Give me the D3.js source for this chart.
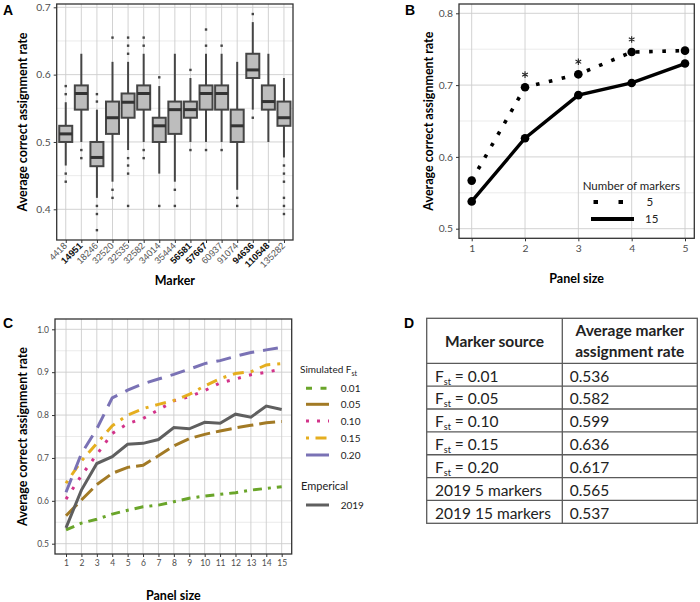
<!DOCTYPE html>
<html>
<head>
<meta charset="utf-8">
<script src="https://cdn.jsdelivr.net/npm/d3@7"></script>
<style>
body { margin: 0; background: #fff; }
svg { display: block; font-family: Lato, 'Open Sans', sans-serif; }
</style>
</head>
<body>
<svg id="fig" width="700" height="602"></svg>
<script>
// ---- Panel A data (boxplots per marker)
const markers = ['4418', '14951', '18246', '32520', '32535', '32582', '34014', '35444', '56581', '57667', '60937', '91074', '94636', '110548', '135282']
const boldMarkers = ['14951', '56581', '57667', '94636', '110548']
const boxQ1 = [0.500, 0.548, 0.464, 0.512, 0.536, 0.548, 0.500, 0.512, 0.536, 0.548, 0.548, 0.500, 0.595, 0.548, 0.524]
const boxMedian = [0.512, 0.572, 0.477, 0.536, 0.559, 0.572, 0.524, 0.548, 0.548, 0.572, 0.572, 0.524, 0.607, 0.560, 0.536]
const boxQ3 = [0.524, 0.584, 0.500, 0.560, 0.572, 0.584, 0.536, 0.560, 0.560, 0.584, 0.584, 0.548, 0.631, 0.584, 0.560]
const whiskerLow = [0.465, 0.500, 0.417, 0.441, 0.488, 0.500, 0.453, 0.441, 0.500, 0.500, 0.500, 0.429, 0.548, 0.500, 0.477]
const whiskerHigh = [0.559, 0.631, 0.548, 0.619, 0.619, 0.631, 0.583, 0.631, 0.595, 0.631, 0.631, 0.619, 0.678, 0.631, 0.595]
const outliers = [
    [0.583, 0.571, 0.453, 0.441],
    [0.488, 0.476],
    [0.571, 0.560, 0.405, 0.393, 0.369],
    [0.655, 0.429, 0.417],
    [0.655, 0.643, 0.631, 0.476, 0.465, 0.453, 0.405],
    [0.655, 0.643, 0.488, 0.476],
    [0.596, 0.405],
    [0.429, 0.405],
    [0.607, 0.488],
    [0.667, 0.643, 0.488],
    [0.643, 0.488],
    [0.417, 0.405],
    [0.690, 0.536],
    [],
    [0.465, 0.453, 0.441, 0.417, 0.405, 0.393]
]
const yTicksA = [0.4, 0.5, 0.6, 0.7]
const yMinorA = [0.45, 0.55, 0.65]

// ---- Panel B data
const panelSizesB = [1, 2, 3, 4, 5]
const rate5 = [0.567, 0.697, 0.715, 0.746, 0.748]
const rate15 = [0.538, 0.626, 0.686, 0.703, 0.730]
const starredSizes = [2, 3, 4]
const yTicksB = [0.5, 0.6, 0.7, 0.8]
const yMinorB = [0.55, 0.65, 0.75]

// ---- Panel C data
const panelSizesC = [1, 2, 3, 4, 5, 6, 7, 8, 9, 10, 11, 12, 13, 14, 15]
const fst01 = [0.532, 0.548, 0.557, 0.569, 0.578, 0.586, 0.590, 0.598, 0.606, 0.611, 0.615, 0.619, 0.625, 0.629, 0.633]
const fst05 = [0.565, 0.602, 0.638, 0.664, 0.678, 0.683, 0.705, 0.728, 0.745, 0.755, 0.763, 0.770, 0.776, 0.782, 0.785]
const fst10 = [0.604, 0.659, 0.708, 0.757, 0.780, 0.792, 0.812, 0.833, 0.843, 0.857, 0.875, 0.884, 0.894, 0.900, 0.907]
const fst15 = [0.641, 0.693, 0.734, 0.775, 0.800, 0.815, 0.825, 0.834, 0.848, 0.868, 0.885, 0.897, 0.901, 0.917, 0.920]
const fst20 = [0.620, 0.710, 0.768, 0.840, 0.858, 0.873, 0.884, 0.895, 0.907, 0.920, 0.927, 0.937, 0.946, 0.952, 0.958]
const emp2019 = [0.537, 0.625, 0.687, 0.703, 0.732, 0.734, 0.743, 0.771, 0.768, 0.783, 0.781, 0.802, 0.795, 0.821, 0.813]
const fstLabels = ['0.01', '0.05', '0.10', '0.15', '0.20']
const yTicksC = [0.5, 0.6, 0.7, 0.8, 0.9, 1.0]
const yMinorC = [0.55, 0.65, 0.75, 0.85, 0.95]

// ---- Panel D data
const markerSources = ['Fst = 0.01', 'Fst = 0.05', 'Fst = 0.10', 'Fst = 0.15', 'Fst = 0.20', '2019 5 markers', '2019 15 markers']
const sourceRates = [0.536, 0.582, 0.599, 0.636, 0.617, 0.565, 0.537]

const svg = d3.select('#fig')
const fmt1 = d3.format('.1f')

// light ggplot-like frame: grid, border, left axis
function frame(g, box, y, yTicks, yMinor, xLines) {
    g.selectAll('line.ymin').data(yMinor).join('line').attr('class', 'ymin')
        .attr('x1', box.left).attr('x2', box.right)
        .attr('y1', y).attr('y2', y)
        .attr('stroke', '#e6e6e6').attr('stroke-width', 0.8)
    g.selectAll('line.ymaj').data(yTicks).join('line').attr('class', 'ymaj')
        .attr('x1', box.left).attr('x2', box.right)
        .attr('y1', y).attr('y2', y)
        .attr('stroke', '#cdcdcd').attr('stroke-width', 0.9)
    g.selectAll('line.xmaj').data(xLines).join('line').attr('class', 'xmaj')
        .attr('x1', d => d).attr('x2', d => d)
        .attr('y1', box.top).attr('y2', box.bottom)
        .attr('stroke', '#cdcdcd').attr('stroke-width', 0.9)

    const axis = g.append('g')
        .attr('transform', `translate(${box.left},0)`)
        .call(d3.axisLeft(y).tickValues(yTicks).tickSize(3).tickPadding(3).tickFormat(fmt1))
    axis.select('.domain').remove()
    axis.selectAll('line').attr('stroke', '#333')
    axis.selectAll('text').attr('fill', '#4d4d4d').style('font-size', box.tickSize + 'px')
        .style('font-family', 'Lato, sans-serif')
}

function border(g, box) {
    g.append('rect')
        .attr('x', box.left).attr('y', box.top)
        .attr('width', box.right - box.left).attr('height', box.bottom - box.top)
        .attr('fill', 'none').attr('stroke', '#333').attr('stroke-width', 1.3)
}

function titles(g, box, xTitle, xTitleY, yTitleX) {
    g.append('text')
        .attr('x', (box.left + box.right) / 2).attr('y', xTitleY)
        .attr('text-anchor', 'middle')
        .style('font-size', '12.5px').style('font-weight', 700)
        .text(xTitle)
    g.append('text')
        .attr('transform', `translate(${yTitleX},${(box.top + box.bottom) / 2}) rotate(-90)`)
        .attr('text-anchor', 'middle')
        .style('font-size', '12.5px').style('font-weight', 700)
        .text('Average correct assignment rate')
}

function panelLetter(x, y, letter) {
    svg.append('text').attr('x', x).attr('y', y)
        .style('font-family', "'Liberation Sans', Arial, sans-serif")
        .style('font-size', '14px').style('font-weight', 700)
        .text(letter)
}

// ---------------- Panel A
{
    const box = { left: 56.7, right: 293, top: 4, bottom: 240, tickSize: 10.3 }
    const g = svg.append('g')
    const x = d3.scalePoint().domain(markers).range([box.left, box.right]).padding(0.58)
    const y = d3.scaleLinear().domain([0.4, 0.7]).range([209.3, 7.3])

    frame(g, box, y, yTicksA, yMinorA, markers.map(x))

    const bw = 13
    const boxes = g.selectAll('g.box').data(markers).join('g').attr('class', 'box')
    boxes.append('line')
        .attr('x1', d => x(d)).attr('x2', d => x(d))
        .attr('y1', (d, i) => y(whiskerLow[i])).attr('y2', (d, i) => y(whiskerHigh[i]))
        .attr('stroke', '#454545').attr('stroke-width', 2)
    boxes.append('rect')
        .attr('x', d => x(d) - bw / 2).attr('width', bw)
        .attr('y', (d, i) => y(boxQ3[i]))
        .attr('height', (d, i) => y(boxQ1[i]) - y(boxQ3[i]))
        .attr('fill', '#bdbdbd').attr('stroke', '#454545').attr('stroke-width', 2)
    boxes.append('line')
        .attr('x1', d => x(d) - bw / 2).attr('x2', d => x(d) + bw / 2)
        .attr('y1', (d, i) => y(boxMedian[i])).attr('y2', (d, i) => y(boxMedian[i]))
        .attr('stroke', '#333').attr('stroke-width', 3)
    boxes.each(function(d, i) {
        d3.select(this).selectAll('rect.out').data(outliers[i]).join('rect').attr('class', 'out')
            .attr('x', x(d) - 1.2).attr('y', v => y(v) - 1.2)
            .attr('width', 2.4).attr('height', 2.4).attr('fill', '#444')
    })

    border(g, box)

    const xAxis = g.append('g').attr('transform', `translate(0,${box.bottom})`)
        .call(d3.axisBottom(x).tickSize(3))
    xAxis.select('.domain').remove()
    xAxis.selectAll('line').attr('stroke', '#333')
    xAxis.selectAll('text')
        .attr('x', 0).attr('y', 0).attr('dy', '0.35em')
        .attr('transform', 'translate(-1,4) rotate(-45)')
        .attr('text-anchor', 'end')
        .style('font-size', '9.3px')
        .style('font-weight', d => boldMarkers.includes(d) ? 700 : 400)
        .attr('fill', d => boldMarkers.includes(d) ? '#111' : '#555')

    titles(g, box, 'Marker', 284.5, 27)
    panelLetter(3, 15, 'A')
}

// ---------------- Panel B
{
    const box = { left: 459, right: 694.3, top: 4, bottom: 238.3, tickSize: 10.3 }
    const g = svg.append('g')
    const x = d3.scaleLinear().domain([1, 5]).range([471.7, 685])
    const y = d3.scaleLinear().domain([0.5, 0.8]).range([228.7, 13.3])

    frame(g, box, y, yTicksB, yMinorB, panelSizesB.map(x))

    const line = d3.line().x((d, i) => x(panelSizesB[i])).y(d => y(d))
    g.append('path').datum(rate5).attr('d', line)
        .attr('fill', 'none').attr('stroke', '#000').attr('stroke-width', 3.6)
        .attr('stroke-dasharray', '3.6,9.6')
    g.append('path').datum(rate15).attr('d', line)
        .attr('fill', 'none').attr('stroke', '#000').attr('stroke-width', 3.4)
    g.selectAll('circle.p5').data(rate5).join('circle').attr('class', 'p5')
        .attr('cx', (d, i) => x(panelSizesB[i])).attr('cy', d => y(d)).attr('r', 4.3)
    g.selectAll('circle.p15').data(rate15).join('circle').attr('class', 'p15')
        .attr('cx', (d, i) => x(panelSizesB[i])).attr('cy', d => y(d)).attr('r', 4.3)

    // significance asterisks above the 5-marker points
    const star = d3.symbol().type(d3.symbolAsterisk).size(30)
    g.selectAll('path.star').data(starredSizes).join('path').attr('class', 'star')
        .attr('transform', d => `translate(${x(d)},${y(rate5[panelSizesB.indexOf(d)]) - 12.6})`)
        .attr('d', star)
        .attr('fill', 'none').attr('stroke', '#222').attr('stroke-width', 1.1)

    border(g, box)

    const xAxis = g.append('g').attr('transform', `translate(0,${box.bottom})`)
        .call(d3.axisBottom(x).tickValues(panelSizesB).tickSize(3).tickPadding(3).tickFormat(d3.format('d')))
    xAxis.select('.domain').remove()
    xAxis.selectAll('line').attr('stroke', '#333')
    xAxis.selectAll('text').attr('fill', '#4d4d4d').style('font-size', '10.3px').style('font-family', 'Lato, sans-serif')

    // legend
    const lg = g.append('g')
    lg.append('text').attr('x', 582.7).attr('y', 190).style('font-size', '11.5px').attr('fill', '#222')
        .text('Number of markers')
    lg.append('line').attr('x1', 593.5).attr('x2', 625).attr('y1', 202).attr('y2', 202)
        .attr('stroke', '#000').attr('stroke-width', 4).attr('stroke-dasharray', '4.5,20.5')
    lg.append('text').attr('x', 646.5).attr('y', 206).style('font-size', '11.5px').attr('fill', '#222').text('5')
    lg.append('line').attr('x1', 591).attr('x2', 634).attr('y1', 219).attr('y2', 219)
        .attr('stroke', '#000').attr('stroke-width', 4)
    lg.append('text').attr('x', 645).attr('y', 223).style('font-size', '11.5px').attr('fill', '#222').text('15')

    titles(g, box, 'Panel size', 282.5, 432.5)
    panelLetter(405, 15, 'B')
}

// ---------------- Panel C
{
    const box = { left: 55, right: 291.7, top: 319, bottom: 554, tickSize: 8.5 }
    const g = svg.append('g')
    const x = d3.scaleLinear().domain([1, 15]).range([66, 281.7])
    const y = d3.scaleLinear().domain([0.5, 1.0]).range([543.7, 329.3])

    frame(g, box, y, yTicksC, yMinorC, panelSizesC.map(x))

    const series = [
        { values: fst01, color: '#6aa52a', dash: '9,6,3,6' },
        { values: fst05, color: '#a27a25', dash: '16,6' },
        { values: fst10, color: '#d2338a', dash: '3,8.5' },
        { values: fst15, color: '#e5ae1f', dash: '3,7,11,7' },
        { values: fst20, color: '#7a72b5', dash: '15,9' },
        { values: emp2019, color: '#5f5f5f', dash: null }
    ]
    const line = d3.line().x((d, i) => x(panelSizesC[i])).y(d => y(d))
    g.selectAll('path.series').data(series).join('path').attr('class', 'series')
        .attr('d', d => line(d.values))
        .attr('fill', 'none').attr('stroke', d => d.color).attr('stroke-width', 3)
        .attr('stroke-dasharray', d => d.dash)

    border(g, box)

    const xAxis = g.append('g').attr('transform', `translate(0,${box.bottom})`)
        .call(d3.axisBottom(x).tickValues(panelSizesC).tickSize(3).tickPadding(3).tickFormat(d3.format('d')))
    xAxis.select('.domain').remove()
    xAxis.selectAll('line').attr('stroke', '#333')
    xAxis.selectAll('text').attr('fill', '#4d4d4d').style('font-size', '8.5px').style('font-family', 'Lato, sans-serif')

    // legend
    const lg = g.append('g').style('font-size', '10px').attr('fill', '#222')
    const t = lg.append('text').attr('x', 300).attr('y', 373)
    t.append('tspan').text('Simulated F')
    t.append('tspan').attr('dy', 3).style('font-size', '7px').text('st')
    const itemY = [388.3, 404.3, 421, 438, 455]
    const legendDash = ['6,8.5', null, '3,8', '3,6.5,11,7', null]
    fstLabels.forEach((lab, i) => {
        lg.append('line').attr('x1', 306).attr('x2', 329).attr('y1', itemY[i]).attr('y2', itemY[i])
            .attr('stroke', series[i].color).attr('stroke-width', 3).attr('stroke-dasharray', legendDash[i])
        lg.append('text').attr('x', 340.7).attr('y', itemY[i] + 3.5).text(lab)
    })
    lg.append('text').attr('x', 301).attr('y', 490).style('font-size', '11px').text('Emperical')
    lg.append('line').attr('x1', 306).attr('x2', 329).attr('y1', 505).attr('y2', 505)
        .attr('stroke', series[5].color).attr('stroke-width', 3)
    lg.append('text').attr('x', 340.7).attr('y', 508.5).text('2019')

    titles(g, box, 'Panel size', 599.5, 27)
    panelLetter(3, 328, 'C')
}

// ---------------- Panel D (table)
{
    const g = svg.append('g')
    const left = 426.7, mid = 562.3, right = 697.3, top = 318.3, headBottom = 363.3
    const rowY = d3.scaleBand().domain(markerSources).range([headBottom, 523.3])
    const stroke = '#5a5a5a'

    g.append('rect').attr('x', left).attr('y', top)
        .attr('width', right - left).attr('height', rowY.range()[1] - top)
        .attr('fill', 'none').attr('stroke', stroke).attr('stroke-width', 1.3)
    g.append('line').attr('x1', mid).attr('x2', mid).attr('y1', top).attr('y2', rowY.range()[1])
        .attr('stroke', stroke).attr('stroke-width', 1.3)
    g.selectAll('line.row').data(markerSources).join('line').attr('class', 'row')
        .attr('x1', left).attr('x2', right)
        .attr('y1', d => rowY(d)).attr('y2', d => rowY(d))
        .attr('stroke', stroke).attr('stroke-width', 1.3)

    const head = g.append('g').style('font-size', '15.5px').style('font-weight', 700).attr('fill', '#222')
    head.append('text').attr('x', (left + mid) / 2).attr('y', 346.5).attr('text-anchor', 'middle').text('Marker source')
    head.append('text').attr('x', (mid + right) / 2).attr('y', 336).attr('text-anchor', 'middle').text('Average marker')
    head.append('text').attr('x', (mid + right) / 2).attr('y', 357).attr('text-anchor', 'middle').text('assignment rate')

    const body = g.append('g').style('font-size', '15.5px').attr('fill', '#222')
    markerSources.forEach((src, i) => {
        const by = rowY(src) + 18.2
        const t = body.append('text').attr('x', 435).attr('y', by)
        if (src.startsWith('Fst')) {
            t.append('tspan').text('F')
            t.append('tspan').attr('dy', 3).style('font-size', '9px').text('st')
            t.append('tspan').attr('dy', -3).text(src.slice(3))
        } else {
            t.text(src)
        }
        body.append('text').attr('x', 569.7).attr('y', by).text(sourceRates[i].toFixed(3))
    })
    panelLetter(404, 328, 'D')
}
</script>
</body>
</html>
